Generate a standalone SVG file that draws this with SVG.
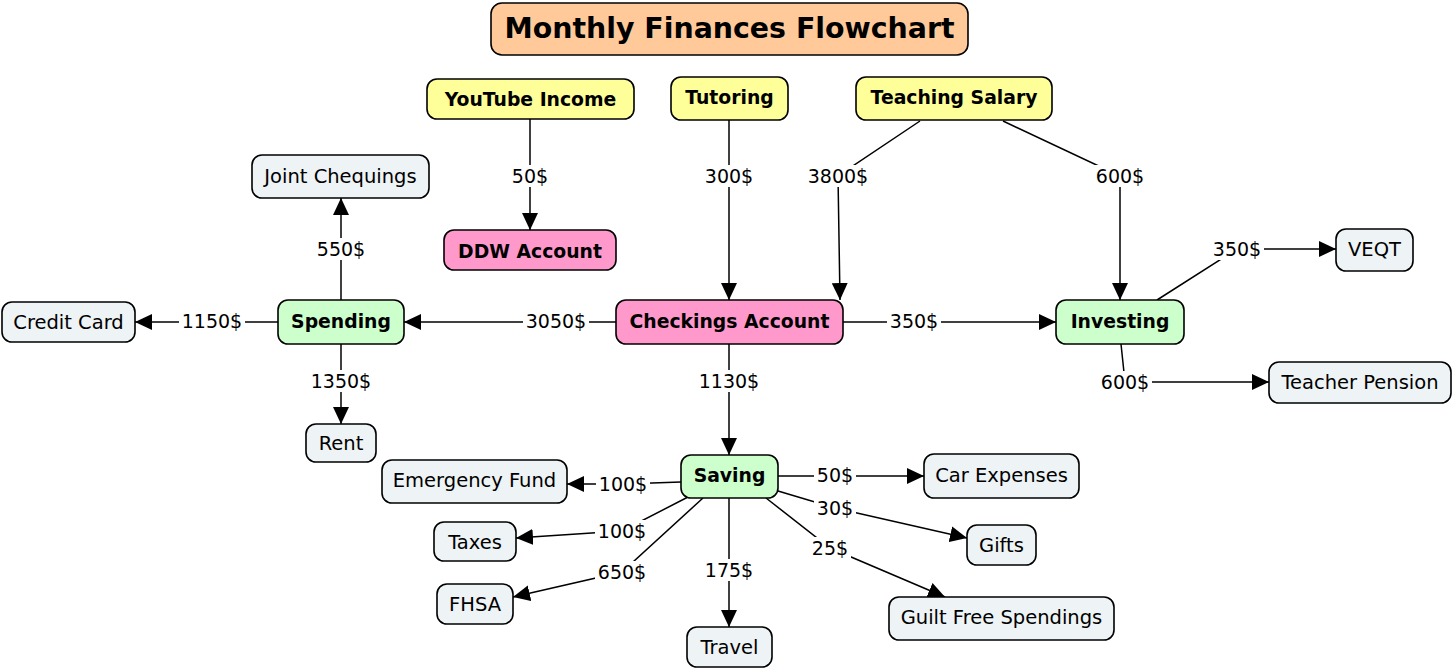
<svg xmlns="http://www.w3.org/2000/svg" width="1456" height="670" viewBox="0 0 1456 670">
<style>
  .box{stroke:#000;stroke-width:1.6}
  .title{fill:#ffc999}
  .inc{fill:#ffff99}
  .acc{fill:#ff99cc}
  .cat{fill:#ccffcc}
  .leaf{fill:#eef3f5}
  text{font-family:"DejaVu Sans","Verdana",sans-serif;fill:#000;dominant-baseline:central;text-anchor:middle}
  .b{font-weight:bold;font-size:18.8px}
  .n{font-size:19.5px}
  .l{font-size:19px}
  .t{font-weight:bold;font-size:28.4px}
  .edge{fill:none;stroke:#000;stroke-width:1.5;marker-end:url(#arr)}
  .lbg{fill:#fff}
</style>
<defs>
  <marker id="arr" markerUnits="userSpaceOnUse" markerWidth="18" markerHeight="16" refX="17" refY="8" orient="auto">
    <path d="M0,0 L17,8 L0,16 Z" fill="#000"/>
  </marker>
</defs>
<rect width="1456" height="670" fill="#fff"/>

<g id="connectors">
  <path class="edge" d="M530,119 V230"/>
  <path class="edge" d="M729,120 V300"/>
  <path class="edge" d="M920,121 L838,176 L840,300"/>
  <path class="edge" d="M1003,121 L1120,176 V300"/>
  <path class="edge" d="M616,322 H404"/>
  <path class="edge" d="M278,322 H135"/>
  <path class="edge" d="M341,300 V198"/>
  <path class="edge" d="M341,344 V424"/>
  <path class="edge" d="M843,322 H1056"/>
  <path class="edge" d="M1157,300 L1237,249 H1336"/>
  <path class="edge" d="M1121,344 L1125,382 H1269"/>
  <path class="edge" d="M729,344 V455"/>
  <path class="edge" d="M681,482 L623,484 H567"/>
  <path class="edge" d="M688,497 L622,531 L516,538"/>
  <path class="edge" d="M703,498 L622,572 L513,597"/>
  <path class="edge" d="M729,498 V627"/>
  <path class="edge" d="M778,476 H924"/>
  <path class="edge" d="M778,491 L835,508 L967,538"/>
  <path class="edge" d="M766,498 L830,548 L945,597"/>
  <g id="labels">
    <rect class="lbg" x="509" y="165" width="42" height="22"/><text class="l" x="530" y="176">50$</text>
    <rect class="lbg" x="702" y="165" width="54" height="22"/><text class="l" x="729" y="176">300$</text>
    <rect class="lbg" x="805" y="165" width="66" height="22"/><text class="l" x="838" y="176">3800$</text>
    <rect class="lbg" x="1093" y="165" width="54" height="22"/><text class="l" x="1120" y="176">600$</text>
    <rect class="lbg" x="523" y="310" width="66" height="22"/><text class="l" x="556" y="321">3050$</text>
    <rect class="lbg" x="179" y="310" width="66" height="22"/><text class="l" x="212" y="321">1150$</text>
    <rect class="lbg" x="314" y="238" width="54" height="22"/><text class="l" x="341" y="249">550$</text>
    <rect class="lbg" x="308" y="370" width="66" height="22"/><text class="l" x="341" y="381">1350$</text>
    <rect class="lbg" x="887" y="310" width="54" height="22"/><text class="l" x="914" y="321">350$</text>
    <rect class="lbg" x="1210" y="238" width="54" height="22"/><text class="l" x="1237" y="249">350$</text>
    <rect class="lbg" x="1098" y="371" width="54" height="22"/><text class="l" x="1125" y="382">600$</text>
    <rect class="lbg" x="696" y="370" width="66" height="22"/><text class="l" x="729" y="381">1130$</text>
    <rect class="lbg" x="596" y="473" width="54" height="22"/><text class="l" x="623" y="484">100$</text>
    <rect class="lbg" x="595" y="520" width="54" height="22"/><text class="l" x="622" y="531">100$</text>
    <rect class="lbg" x="595" y="561" width="54" height="22"/><text class="l" x="622" y="572">650$</text>
    <rect class="lbg" x="702" y="559" width="54" height="22"/><text class="l" x="729" y="570">175$</text>
    <rect class="lbg" x="814" y="464" width="42" height="22"/><text class="l" x="835" y="475">50$</text>
    <rect class="lbg" x="814" y="497" width="42" height="22"/><text class="l" x="835" y="508">30$</text>
    <rect class="lbg" x="809" y="537" width="42" height="22"/><text class="l" x="830" y="548">25$</text>
  </g>
</g>

<g id="title"><rect class="box title" x="491" y="3" width="477" height="52" rx="11"/><text class="t" x="729.5" y="28">Monthly Finances Flowchart</text></g>
<g id="youtube"><rect class="box inc" x="427" y="79" width="207" height="40" rx="10"/><text class="b" x="530.5" y="99">YouTube Income</text></g>
<g id="tutoring"><rect class="box inc" x="671" y="77" width="117" height="43" rx="10"/><text class="b" x="729.5" y="97">Tutoring</text></g>
<g id="teaching"><rect class="box inc" x="856" y="77" width="196" height="43" rx="10"/><text class="b" x="954" y="97">Teaching Salary</text></g>
<g id="joint"><rect class="box leaf" x="252" y="155" width="177" height="43" rx="10"/><text class="n" x="340.5" y="176">Joint Chequings</text></g>
<g id="ddw"><rect class="box acc" x="444" y="230" width="172" height="40" rx="10"/><text class="b" x="530" y="251">DDW Account</text></g>
<g id="credit"><rect class="box leaf" x="2" y="302" width="133" height="40" rx="10"/><text class="n" x="68.5" y="322">Credit Card</text></g>
<g id="spending"><rect class="box cat" x="278" y="300" width="126" height="44" rx="10"/><text class="b" x="341" y="321">Spending</text></g>
<g id="checkings"><rect class="box acc" x="616" y="300" width="227" height="44" rx="10"/><text class="b" x="729.5" y="321">Checkings Account</text></g>
<g id="investing"><rect class="box cat" x="1056" y="300" width="128" height="44" rx="10"/><text class="b" x="1120" y="321">Investing</text></g>
<g id="veqt"><rect class="box leaf" x="1336" y="229" width="77" height="42" rx="10"/><text class="n" x="1374.5" y="249">VEQT</text></g>
<g id="pension"><rect class="box leaf" x="1269" y="362" width="182" height="41" rx="10"/><text class="n" x="1360" y="382">Teacher Pension</text></g>
<g id="rent"><rect class="box leaf" x="306" y="424" width="70" height="38" rx="10"/><text class="n" x="341" y="443">Rent</text></g>
<g id="emergency"><rect class="box leaf" x="382" y="460" width="185" height="43" rx="10"/><text class="n" x="474.5" y="480">Emergency Fund</text></g>
<g id="saving"><rect class="box cat" x="681" y="455" width="97" height="43" rx="10"/><text class="b" x="729.5" y="475">Saving</text></g>
<g id="car"><rect class="box leaf" x="924" y="454" width="155" height="44" rx="10"/><text class="n" x="1001.5" y="475">Car Expenses</text></g>
<g id="taxes"><rect class="box leaf" x="434" y="522" width="82" height="39" rx="10"/><text class="n" x="475" y="542">Taxes</text></g>
<g id="gifts"><rect class="box leaf" x="967" y="525" width="69" height="40" rx="10"/><text class="n" x="1001.5" y="545">Gifts</text></g>
<g id="fhsa"><rect class="box leaf" x="437" y="584" width="76" height="40" rx="10"/><text class="n" x="475" y="604">FHSA</text></g>
<g id="guilt"><rect class="box leaf" x="889" y="597" width="225" height="43" rx="10"/><text class="n" x="1001.5" y="617">Guilt Free Spendings</text></g>
<g id="travel"><rect class="box leaf" x="687" y="627" width="85" height="40" rx="10"/><text class="n" x="729.5" y="647">Travel</text></g>
</svg>
